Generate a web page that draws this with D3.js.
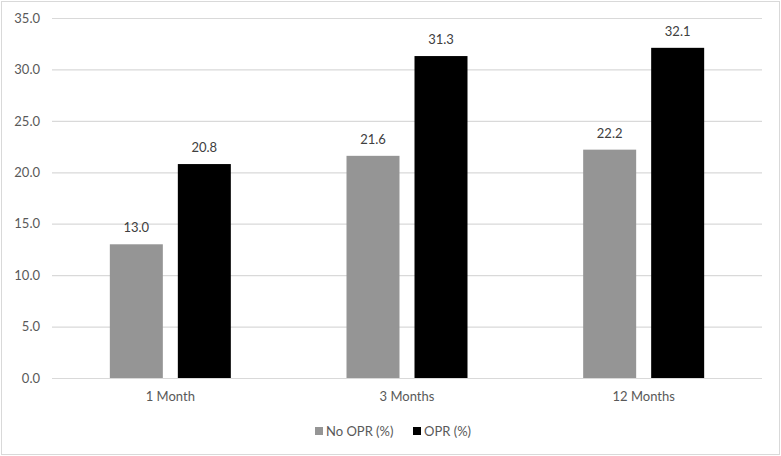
<!DOCTYPE html>
<html>
<head>
<meta charset="utf-8">
<script src="https://cdn.jsdelivr.net/npm/d3@7"></script>
<style>
  body { margin: 0; background: #fff; }
  svg text { font-family: Lato, "Open Sans", sans-serif; }
</style>
</head>
<body>
<svg id="vis" width="781" height="456"></svg>
<script>
// chart data
var categories = ["1 Month", "3 Months", "12 Months"];
var seriesNames = ["No OPR (%)", "OPR (%)"];
var noOpr = [13.0, 21.6, 22.2];
var opr = [20.8, 31.3, 32.1];
var yTicks = [0, 5, 10, 15, 20, 25, 30, 35];

var colors = ["#959595", "#000000"];

var svg = d3.select("#vis");
var W = 781, H = 456;
// plot area edges (don't use "top" -- it's window.top)
var plotLeft = 52, plotRight = 762, plotTop = 18, plotBottom = 378;

// outer border
svg.append("rect")
    .attr("x", 1.5).attr("y", 1.5)
    .attr("width", W - 3).attr("height", H - 3)
    .attr("fill", "#fff")
    .attr("stroke", "#d9d9d9");

var x = d3.scaleBand().domain(categories).range([plotLeft, plotRight]);
var y = d3.scaleLinear().domain([0, 35]).range([plotBottom, plotTop]);

// gridlines + y labels
var yAxis = d3.axisLeft(y).tickValues(yTicks)
    .tickSize(-(plotRight - plotLeft))
    .tickFormat(d3.format(".1f"))
    .tickPadding(12);
var gy = svg.append("g").attr("transform", "translate(" + plotLeft + ",0)").call(yAxis);
gy.select(".domain").remove();
gy.selectAll("line").attr("stroke", "#d9d9d9").attr("stroke-width", 1.2);
gy.selectAll("text").attr("fill", "#595959").style("font-size", "13px");

// x labels
var xAxis = d3.axisBottom(x).tickSize(0).tickPadding(14);
var gx = svg.append("g").attr("transform", "translate(0," + plotBottom + ")").call(xAxis);
gx.select(".domain").remove();
gx.selectAll("text").attr("fill", "#595959").style("font-size", "13px");

// bars
var barW = 53, gap = 15;
var table = categories.map(function(c, i) {
    return [{cat: c, s: 0, v: noOpr[i]}, {cat: c, s: 1, v: opr[i]}];
});
var flat = [].concat.apply([], table);

function barX(d) {
    var cx = x(d.cat) + x.bandwidth() / 2;
    return d.s === 0 ? cx - gap / 2 - barW : cx + gap / 2;
}

svg.selectAll("rect.bar")
    .data(flat)
    .enter()
    .append("rect")
    .attr("class", "bar")
    .attr("x", barX)
    .attr("y", function(d) { return y(d.v); })
    .attr("width", barW)
    .attr("height", function(d) { return plotBottom - y(d.v); })
    .attr("fill", function(d) { return colors[d.s]; });

svg.selectAll("text.val")
    .data(flat)
    .enter()
    .append("text")
    .attr("class", "val")
    .attr("x", function(d) { return barX(d) + barW / 2; })
    .attr("y", function(d) { return y(d.v) - 12; })
    .attr("text-anchor", "middle")
    .attr("fill", "#404040")
    .style("font-size", "13px")
    .text(function(d) { return d.v.toFixed(1); });

// legend
var legendX = [315, 413];
var lg = svg.selectAll("g.legend")
    .data(seriesNames)
    .enter()
    .append("g")
    .attr("class", "legend")
    .attr("transform", function(d, i) { return "translate(" + legendX[i] + ",431)"; });
lg.append("rect")
    .attr("x", 0).attr("y", -4)
    .attr("width", 8).attr("height", 8)
    .attr("fill", function(d, i) { return colors[i]; });
lg.append("text")
    .attr("x", 11).attr("y", 5)
    .attr("fill", "#595959")
    .style("font-size", "13px")
    .text(function(d) { return d; });
</script>
</body>
</html>
